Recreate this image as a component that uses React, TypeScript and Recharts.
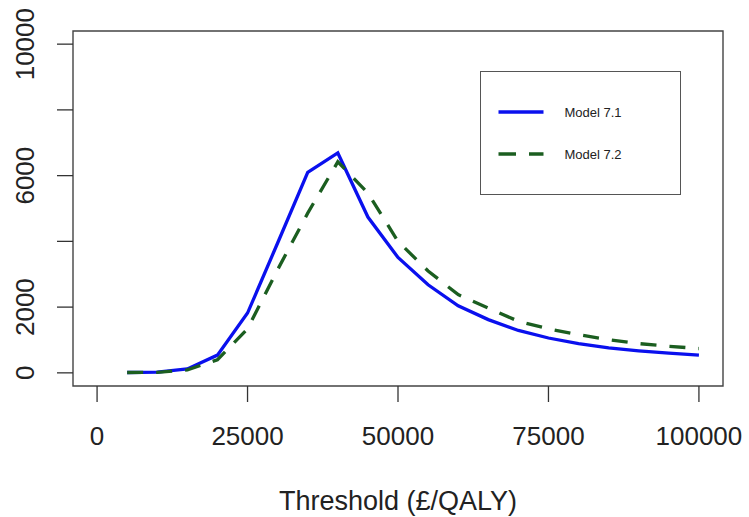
import React from 'react';
import { LineChart, Line, XAxis, YAxis, ReferenceArea } from 'recharts';

const thresholds = [5000, 10000, 15000, 20000, 25000, 30000, 35000, 40000, 45000, 50000, 55000, 60000, 65000, 70000, 75000, 80000, 85000, 90000, 95000, 100000];
const model71 = [10, 20, 120, 540, 1820, 3950, 6100, 6690, 4740, 3510, 2680, 2040, 1620, 1290, 1060, 890, 760, 670, 600, 540];
const model72 = [10, 15, 90, 400, 1340, 3140, 4860, 6420, 5470, 4000, 3100, 2380, 1970, 1570, 1340, 1160, 1010, 890, 810, 740];
const seriesNames = ['Model 7.1', 'Model 7.2'];
const xTicks = [0, 25000, 50000, 75000, 100000];
const xTickLabels = ['0', '25000', '50000', '75000', '100000'];
const yTicks = [0, 2000, 4000, 6000, 8000, 10000];
const yTickLabels = ['0', '2000', '', '6000', '', '10000'];
const xTitle = 'Threshold (£/QALY)';

const data = thresholds.map((x, i) => ({ x, m1: model71[i], m2: model72[i] }));

const FONT = '"Liberation Sans", Arial, Helvetica, sans-serif';
const BLUE = '#0a10ee';
const GREEN = '#1b5e20';
const DASH = '16 13';

const XTick = (props: any) => {
  const { x, y, payload } = props;
  const idx = xTicks.indexOf(payload.value);
  return (
    <text x={x} y={y + 41} textAnchor="middle" fontSize={26} fontFamily={FONT} fill="#222">
      {idx >= 0 ? xTickLabels[idx] : ''}
    </text>
  );
};

const YTick = (props: any) => {
  const { x, y, payload } = props;
  const idx = yTicks.indexOf(payload.value);
  const label = idx >= 0 ? yTickLabels[idx] : '';
  if (!label) return <g />;
  return (
    <text transform={`translate(${x - 21.5},${y}) rotate(-90)`} textAnchor="middle" fontSize={26} fontFamily={FONT} fill="#222">
      {label}
    </text>
  );
};

const LegendBox = () => (
  <div style={{ position: 'absolute', left: 480, top: 71, width: 201, height: 124, border: '1.5px solid #555', boxSizing: 'border-box', background: '#fff' }}>
    <svg width={198} height={121} style={{ display: 'block' }}>
      <line x1={17.5} x2={62.5} y1={40} y2={40} stroke={BLUE} strokeWidth={3.3} />
      <text x={83.5} y={40} dominantBaseline="central" fontSize={13} fontFamily={FONT} fill="#222">{seriesNames[0]}</text>
      <line x1={17.5} x2={62.5} y1={82} y2={82} stroke={GREEN} strokeWidth={3.3} strokeDasharray="17.5 13" />
      <text x={83.5} y={82} dominantBaseline="central" fontSize={13} fontFamily={FONT} fill="#222">{seriesNames[1]}</text>
    </svg>
  </div>
);

export default function App() {
  return (
    <div style={{ position: 'absolute', left: 0, top: 0, width: 749, height: 517, background: '#fff' }}>
      <LineChart width={749} height={517} data={data} margin={{ top: 31, right: 26, bottom: 0, left: 0 }}>
        <XAxis
          type="number"
          dataKey="x"
          domain={[-4000, 104000]}
          allowDataOverflow
          ticks={xTicks}
          interval={0}
          tickSize={16}
          tickLine={{ stroke: '#333', strokeWidth: 1.3 }}
          axisLine={false}
          tick={<XTick />}
          height={131}
          label={{ value: xTitle, position: 'insideBottom', offset: 7, fontSize: 27, fontFamily: FONT, fill: '#222' }}
        />
        <YAxis
          type="number"
          domain={[-400, 10400]}
          allowDataOverflow
          ticks={yTicks}
          interval={0}
          tickSize={16}
          width={73}
          tickLine={{ stroke: '#333', strokeWidth: 1.3 }}
          axisLine={false}
          tick={<YTick />}
        />
        <ReferenceArea x1={-4000} x2={104000} y1={-400} y2={10400} fill="none" stroke="#444" strokeWidth={1.4} ifOverflow="visible" />
        <Line type="linear" dataKey="m1" name={seriesNames[0]} stroke={BLUE} strokeWidth={3.3} dot={false} isAnimationActive={false} />
        <Line type="linear" dataKey="m2" name={seriesNames[1]} stroke={GREEN} strokeWidth={3.3} strokeDasharray={DASH} dot={false} isAnimationActive={false} />
      </LineChart>
      <LegendBox />
    </div>
  );
}
